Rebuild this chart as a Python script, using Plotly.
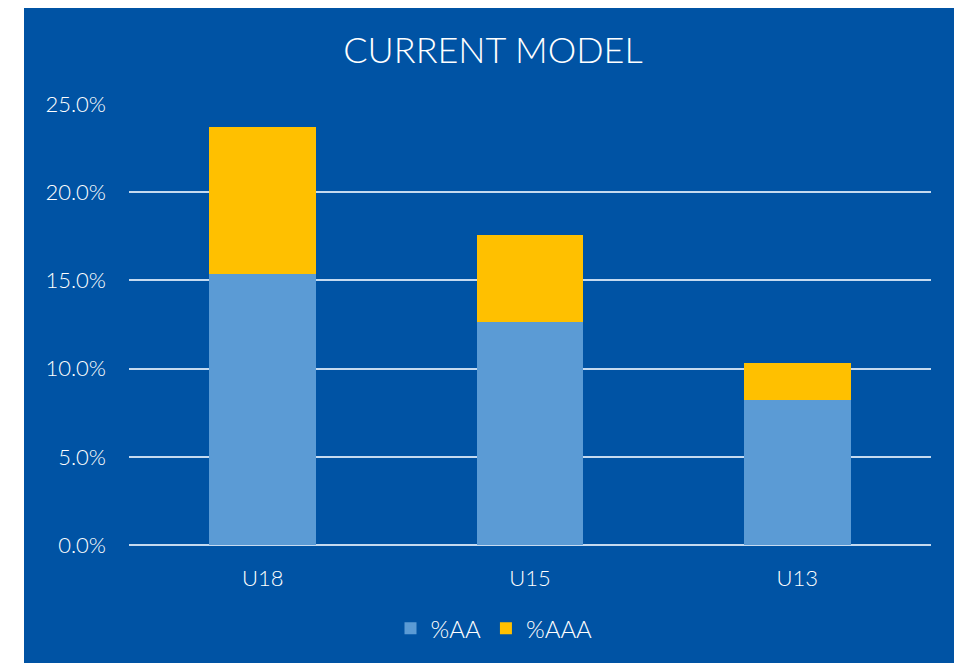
import plotly.graph_objects as go

categories = ["U18", "U15", "U13"]
pct_aa = [0.1535, 0.1264, 0.0824]
pct_aaa = [0.0835, 0.0491, 0.0209]
y_ticks = [0, 0.05, 0.10, 0.15, 0.20, 0.25]

# page body has an 8px margin; reference coordinates are offset accordingly
OFF = 8
W, H = 962 - OFF, 663 - OFF
L, R, T, B = 129 - OFF, 31, 104 - OFF, 116
pw, ph = W - L - R, H - T - B

def px(x):
    return (x - OFF - L) / pw

def py(y):
    return (H - B - (y - OFF)) / ph

BG = "#0053A4"
FONT = "Lato, 'Open Sans', sans-serif"

fig = go.Figure()
fig.add_trace(go.Bar(x=categories, y=pct_aa, name="%AA", marker_color="#5B9BD5", marker_line_width=0))
fig.add_trace(go.Bar(x=categories, y=pct_aaa, name="%AAA", marker_color="#FFC000", marker_line_width=0))

fig.update_layout(
    width=W, height=H,
    barmode="stack", bargap=0.6,
    paper_bgcolor=BG, plot_bgcolor=BG,
    margin=dict(l=L, r=R, t=T, b=B, pad=0),
    font=dict(family=FONT, color="white", size=22, weight=300),
    title=dict(text="CURRENT MODEL", x=(493 - OFF) / W, xref="container", xanchor="center",
               y=1 - (50 - OFF) / H, yref="container", yanchor="middle",
               font=dict(size=36, color="white", family=FONT, weight=300)),
    showlegend=True,
    legend=dict(orientation="h", x=px(494), xanchor="center", y=py(631), yanchor="middle",
                font=dict(size=24, color="white", weight=300), bgcolor="rgba(0,0,0,0)",
                itemwidth=30, traceorder="normal"),
    xaxis=dict(showgrid=False, showline=False, zeroline=False,
               tickfont=dict(size=22, color="white", weight=300), ticklabelstandoff=18),
    yaxis=dict(range=[0, 0.25], tickvals=y_ticks, tickformat=".1%",
               showgrid=True, gridcolor="#C5DAF0", gridwidth=1.5,
               zeroline=True, zerolinecolor="#C5DAF0", zerolinewidth=1.5,
               showline=False, tickfont=dict(size=22, color="white", weight=300), ticklabelstandoff=22),
    shapes=[
        dict(type="rect", xref="paper", yref="paper", x0=px(0), x1=px(24), y0=py(H + 20), y1=py(0),
             fillcolor="white", line_width=0, layer="above"),
    ],
)

fig.write_html("out.html")
